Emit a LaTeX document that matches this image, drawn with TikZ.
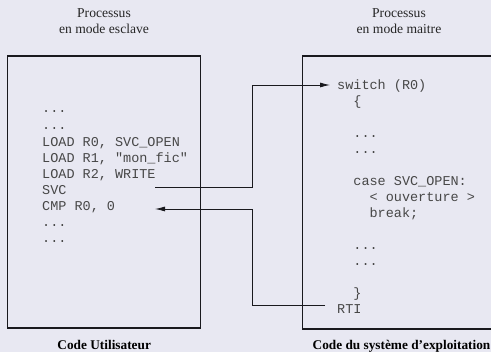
\documentclass[tikz,border=0pt]{standalone}
\usepackage{fontspec}
\setmainfont{Liberation Serif}
\setmonofont{Liberation Mono}
\usetikzlibrary{arrows.meta}
\definecolor{bgcol}{RGB}{232,232,242}
\definecolor{linecol}{RGB}{25,25,30}
\begin{document}
\begin{tikzpicture}[x=1pt,y=-1pt,
  code/.style={anchor=base west,inner sep=0pt,font=\ttfamily\fontsize{13.5}{16}\selectfont,text=black!72},
  title/.style={anchor=base,inner sep=0pt,font=\fontsize{13.6}{16}\selectfont,text=black!85},
  caption/.style={anchor=base,inner sep=0pt,font=\bfseries\fontsize{13.3}{16}\selectfont},
  boxline/.style={draw=linecol,line width=1.1pt},
  arr/.style={draw=linecol,line width=0.8pt,-{Latex[length=10pt,width=5pt]}}]
\fill[bgcol] (0,0) rectangle (491,352);
\useasboundingbox (0,0) rectangle (491,352);
% titles
\node[title] (t1a) at (104,17.3) {Processus};
\node[title] (t1b) at (104,34) {en mode esclave};
\node[title] (t2a) at (399,17.3) {Processus};
\node[title] (t2b) at (399,34) {en mode maitre};
% boxes
\draw[boxline] (7.5,56) rectangle (200.5,328);
\draw[boxline] (496,56) -- (302.3,56) -- (302.3,329) -- (496,329);
% left code
\node[code] (l1) at (42,113) {...};
\node[code] (l2) at (42,130) {...};
\node[code] (l3) at (42,147) {LOAD R0, SVC\_OPEN};
\node[code] (l4) at (42,163) {LOAD R1, "mon\_fic"};
\node[code] (l5) at (42,179) {LOAD R2, WRITE};
\node[code] (l6) at (42,195) {SVC};
\node[code] (l7) at (42,211) {CMP R0, 0};
\node[code] (l8) at (42,227) {...};
\node[code] (l9) at (42,243) {...};
% right code
\node[code] (r1) at (337,90) {switch (R0)};
\node[code] (r2) at (353.2,106) {\{};
\node[code] (r3) at (353.2,138) {...};
\node[code] (r4) at (353.2,154) {...};
\node[code] (r5) at (353.2,186) {case SVC\_OPEN:};
\node[code] (r6) at (369.4,202) {< ouverture >};
\node[code] (r7) at (369.4,218) {break;};
\node[code] (r8) at (353.2,250) {...};
\node[code] (r9) at (353.2,266) {...};
\node[code] (r10) at (353.2,298) {\}};
\node[code] (r11) at (337,314) {RTI};
% captions
\node[caption] (c1) at (104.2,349.5) {Code Utilisateur};
\node[caption] (c2) at (401.5,349.5) {Code du système d’exploitation};
% connectors
\coordinate (a1s) at (155,187);
\coordinate (a1e) at (330,85);
\coordinate (a2s) at (325,305);
\coordinate (a2e) at (155,209);
\draw[arr] (a1s) -- (252,187) |- (a1e);
\draw[arr] (a2s) -- (252,305) |- (a2e);
\end{tikzpicture}
\end{document}
